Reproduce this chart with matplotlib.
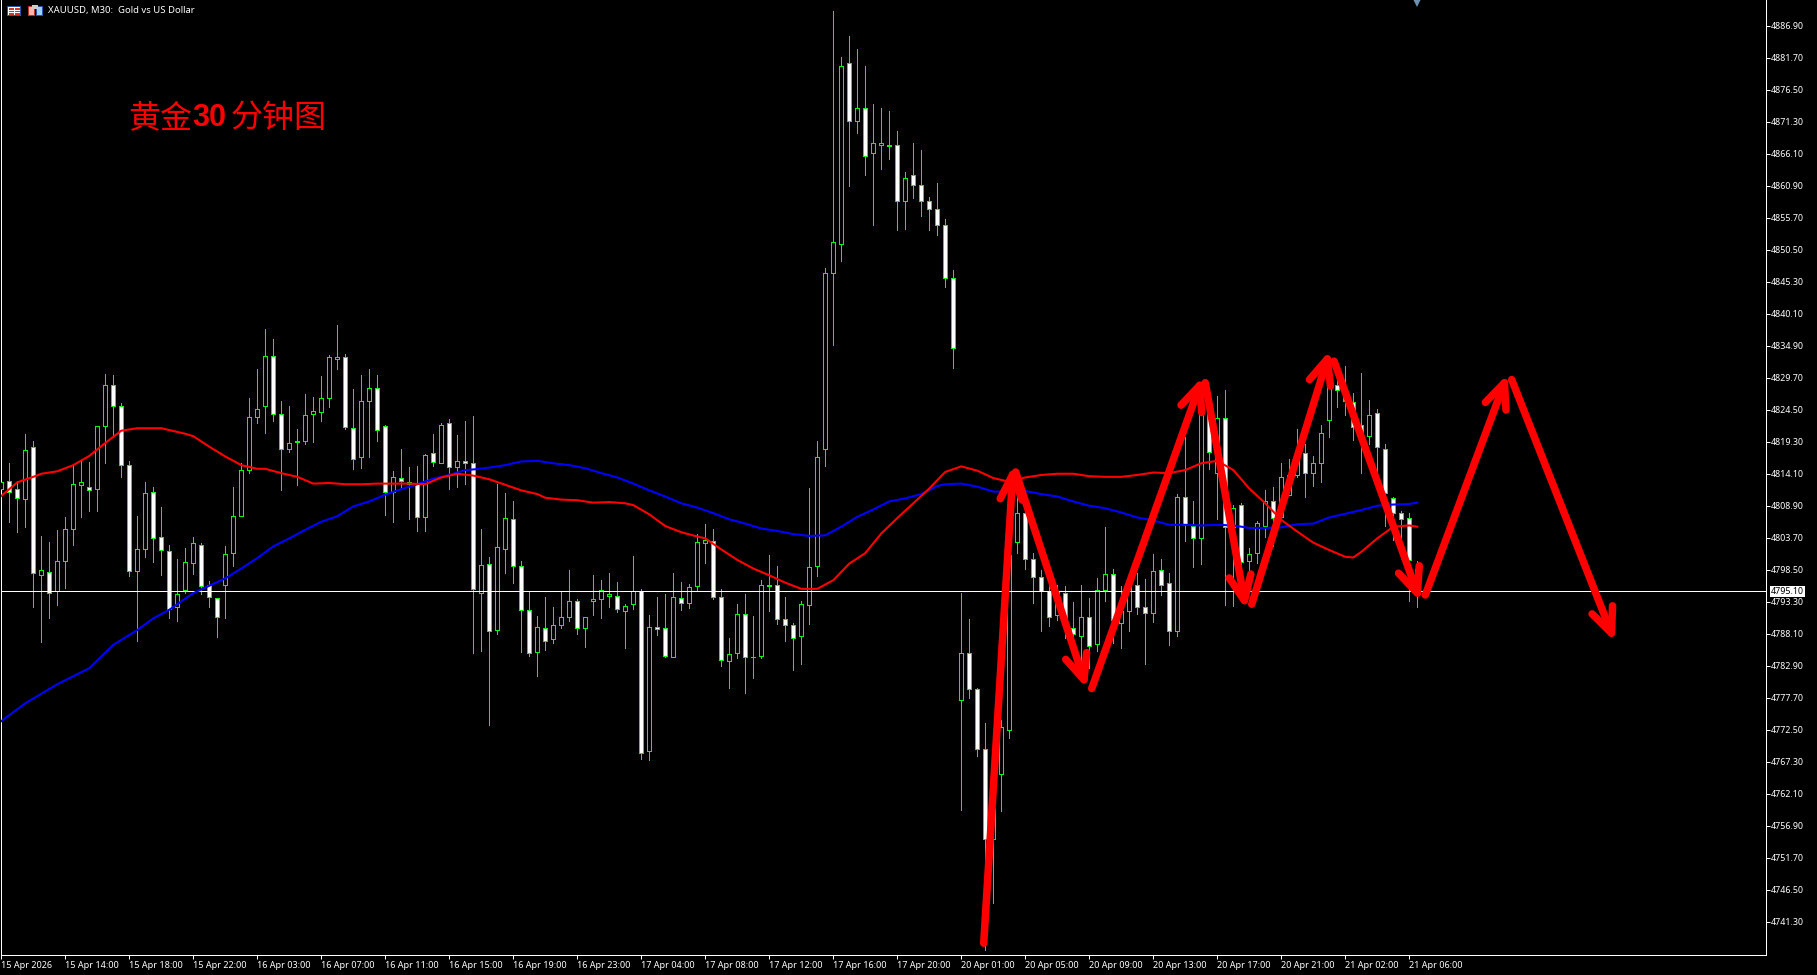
import matplotlib
matplotlib.use("Agg")
import matplotlib.pyplot as plt
from matplotlib.patches import FancyArrowPatch, Rectangle
from matplotlib.transforms import IdentityTransform, ScaledTranslation

plt.rcParams['font.family'] = ['Noto Sans', 'DejaVu Sans']

opens = [4811.7,4813.1,4811.7,4810.1,4818.5,4797.7,4798.3,4795.1,4800.1,4805.3,
         4812.4,4812.1,4811.8,4821.9,4828.6,4825.2,4815.7,4798.4,4801.9,4811.2,
         4804.0,4801.6,4792.5,4795.3,4799.7,4802.7,4796.1,4794.0,4796.2,4801.3,
         4807.4,4814.8,4823.5,4825.2,4833.3,4823.9,4818.2,4819.3,4819.5,4823.9,
         4824.2,4826.5,4832.9,4833.1,4821.6,4817.0,4826.1,4828.1,4821.9,4811.2,
         4813.5,4812.6,4812.6,4807.1,4817.5,4816.0,4822.4,4815.3,4816.2,4815.9,
         4794.8,4799.5,4788.8,4801.9,4806.8,4799.2,4792.0,4785.2,4789.1,4787.3,
         4789.7,4790.9,4793.6,4789.1,4793.5,4793.8,4794.4,4794.3,4791.9,4793.0,
         4795.1,4769.1,4789.3,4789.1,4784.5,4794.0,4793.2,4795.9,4802.9,4803.2,
         4794.1,4783.7,4785.0,4791.4,4784.5,4784.6,4796.0,4796.1,4790.6,4789.6,
         4787.8,4792.8,4799.2,4818.2,4846.8,4851.6,4881.0,4871.6,4873.6,4866.3,
         4867.7,4867.5,4867.6,4858.6,4862.7,4861.1,4858.5,4857.2,4854.7,4846.0,
         4777.4,4785.0,4779.2,4769.4,4754.9,4765.4,4772.6,4803.1,4807.8,4800.4,
         4797.5,4795.1,4791.3,4794.9,4789.2,4787.8,4790.9,4786.5,4795.3,4797.9,
         4789.9,4791.9,4796.2,4792.5,4791.5,4798.5,4796.4,4788.6,4810.4,4805.7,
         4803.7,4824.0,4814.3,4823.2,4805.6,4809.1,4800.1,4801.4,4805.7,4809.7,
         4807.1,4810.8,4814.0,4817.5,4814.3,4815.9,4823.0,4828.7,4827.8,4825.8,
         4822.2,4820.3,4824.0,4818.3,4810.2,4807.9,4807.0,4798.8]
highs = [4813.7,4815.9,4813.1,4820.7,4819.5,4804.1,4803.1,4805.1,4807.2,4815.4,
         4816.2,4816.1,4822.0,4830.4,4830.3,4825.7,4816.3,4807.3,4812.9,4812.0,
         4808.8,4802.6,4800.4,4802.1,4803.9,4802.9,4796.7,4794.0,4802.5,4812.0,
         4815.9,4826.5,4831.2,4837.7,4836.1,4826.0,4825.2,4821.5,4827.2,4826.7,
         4830.1,4833.5,4838.4,4833.7,4827.9,4830.2,4831.2,4830.2,4822.1,4814.7,
         4818.2,4815.3,4815.5,4817.4,4820.7,4822.4,4823.1,4820.5,4822.7,4823.6,
         4805.2,4800.6,4812.6,4811.1,4809.8,4800.0,4795.1,4791.1,4794.2,4792.6,
         4795.1,4798.5,4793.9,4791.0,4797.7,4796.9,4798.1,4796.6,4793.0,4800.9,
         4795.4,4791.3,4794.2,4794.6,4798.1,4796.6,4796.3,4804.4,4806.0,4805.2,
         4795.5,4787.5,4793.0,4794.7,4791.1,4796.9,4801.0,4799.2,4794.2,4790.0,
         4793.5,4811.9,4819.5,4847.6,4889.4,4881.9,4885.3,4883.2,4880.5,4874.3,
         4873.6,4873.1,4869.9,4863.2,4867.9,4866.8,4859.2,4861.4,4855.6,4847.3,
         4794.8,4790.6,4779.4,4773.7,4762.0,4774.2,4805.0,4811.6,4808.3,4801.3,
         4798.6,4796.9,4796.1,4795.9,4793.3,4796.1,4794.0,4797.2,4805.6,4798.8,
         4795.9,4798.0,4798.0,4797.1,4801.1,4800.4,4798.0,4810.9,4820.1,4809.7,
         4826.7,4826.0,4826.8,4827.8,4809.2,4809.4,4802.1,4806.5,4811.5,4812.1,
         4815.9,4816.6,4821.4,4819.1,4817.1,4822.1,4831.0,4830.5,4831.7,4827.3,
         4830.5,4826.2,4824.7,4819.0,4810.4,4808.2,4807.8,4800.0]
lows = [4811.0,4806.3,4804.8,4805.6,4792.6,4786.8,4790.7,4792.9,4795.7,4802.6,
        4807.2,4808.2,4808.2,4816.0,4820.5,4813.6,4797.6,4787.1,4800.6,4799.8,
        4797.8,4790.7,4790.2,4794.8,4797.9,4794.6,4792.6,4787.7,4790.7,4799.2,
        4807.4,4814.4,4822.5,4820.9,4822.8,4811.5,4817.7,4812.4,4819.1,4819.3,
        4822.8,4825.0,4831.2,4821.5,4814.9,4815.1,4817.0,4819.6,4807.5,4806.4,
        4811.7,4806.9,4804.9,4804.9,4815.4,4815.9,4811.8,4812.1,4812.6,4785.0,
        4785.4,4773.3,4788.2,4798.1,4796.5,4785.3,4784.6,4781.4,4785.6,4786.7,
        4789.1,4790.3,4788.2,4786.1,4791.3,4790.8,4792.5,4791.8,4785.9,4792.2,
        4767.9,4767.7,4788.0,4784.4,4784.4,4792.1,4792.4,4795.1,4799.7,4793.9,
        4783.0,4779.4,4784.3,4778.6,4781.0,4784.3,4791.9,4789.8,4787.0,4782.3,
        4783.3,4789.8,4797.6,4815.4,4835.1,4848.8,4860.9,4869.6,4862.7,4854.6,
        4863.7,4865.3,4853.8,4854.0,4859.0,4856.1,4853.8,4853.0,4844.5,4831.4,
        4759.6,4777.8,4768.3,4736.8,4744.5,4759.4,4771.3,4801.4,4798.7,4793.2,
        4788.7,4789.4,4790.4,4787.5,4787.2,4782.6,4782.6,4785.4,4793.5,4786.7,
        4785.9,4788.7,4791.4,4783.3,4790.1,4794.5,4786.4,4787.8,4803.2,4799.1,
        4799.5,4815.0,4806.9,4792.9,4792.7,4795.3,4796.9,4799.7,4804.0,4802.4,
        4806.7,4810.7,4813.7,4810.5,4812.2,4812.9,4820.2,4825.0,4823.8,4819.7,
        4814.3,4819.1,4814.0,4805.7,4803.4,4803.4,4793.6,4792.6]
closes = [4812.9,4811.3,4810.2,4818.0,4798.0,4798.5,4794.9,4800.0,4805.2,4812.6,
          4812.8,4811.5,4821.9,4828.6,4825.2,4815.6,4798.4,4801.9,4811.0,4803.7,
          4801.8,4792.3,4794.6,4799.8,4802.9,4795.9,4794.1,4790.9,4801.1,4807.4,
          4814.8,4823.5,4824.8,4833.3,4823.9,4818.2,4819.2,4819.6,4823.7,4824.4,
          4826.5,4833.1,4833.1,4821.8,4816.6,4826.1,4828.1,4821.3,4811.3,4813.6,
          4813.1,4812.8,4807.1,4817.2,4816.1,4822.2,4815.3,4816.2,4815.9,4795.4,
          4799.3,4788.6,4802.3,4807.0,4799.2,4792.0,4785.0,4789.3,4787.1,4789.6,
          4790.9,4793.5,4789.1,4790.9,4793.8,4795.3,4794.6,4792.3,4792.7,4795.1,
          4768.9,4789.3,4788.9,4784.6,4794.1,4793.2,4795.8,4803.1,4803.4,4794.1,
          4783.9,4784.9,4791.4,4784.5,4784.4,4796.1,4796.1,4790.6,4789.7,4787.5,
          4793.0,4799.0,4817.0,4846.8,4851.8,4880.4,4871.5,4873.6,4865.9,4867.9,
          4867.9,4867.7,4858.5,4862.3,4861.1,4858.5,4857.2,4854.7,4846.0,4834.6,
          4785.0,4779.2,4769.4,4754.8,4759.8,4773.0,4801.0,4807.8,4800.4,4797.5,
          4795.1,4790.9,4795.0,4790.0,4788.1,4790.9,4786.2,4795.3,4797.9,4790.4,
          4791.9,4795.9,4792.5,4791.5,4798.4,4796.1,4788.6,4810.4,4805.9,4803.7,
          4824.0,4817.7,4823.2,4805.6,4808.7,4799.8,4801.1,4806.2,4809.7,4807.0,
          4813.6,4814.0,4817.5,4814.3,4815.9,4820.9,4828.6,4827.8,4826.0,4821.8,
          4820.5,4823.7,4818.5,4811.0,4807.9,4806.8,4800.2,4795.1]

# moving averages, read every couple of bars
red_x = [0,2,4,5,7,9,11,13,15,17,19,20,23,24,26,28,30,32,33,35,37,39,41,43,45,47,49,51,53,55,57,59,
         61,63,65,67,68,70,72,74,76,78,79,81,83,85,87,88,90,92,94,96,98,100,102,104,106,108,110,112,114,116,118,
         120,122,124,126,128,130,132,134,136,138,140,142,144,146,148,150,152,154,156,158,160,162,164,166,168,169,170,172,174,176,177]
red_y = [4810.6,4812.8,4813.7,4814.2,4814.6,4815.6,4817.1,4819.2,4821.2,4821.6,4821.6,4821.6,4820.7,4820.3,4818.6,4817.0,
         4815.6,4815.0,4815.0,4814.3,4813.7,4812.6,4812.7,4812.5,4812.5,4812.6,4812.6,4812.6,4812.5,4813.6,4814.2,4813.9,
         4813.3,4812.4,4811.5,4810.9,4810.3,4810.0,4809.9,4809.5,4809.6,4809.4,4809.1,4807.6,4805.7,4804.7,4804.0,4803.7,
         4801.9,4800.2,4798.8,4797.7,4796.5,4795.5,4795.5,4796.9,4799.6,4801.3,4804.5,4807.0,4809.4,4811.8,4814.5,
         4815.4,4814.7,4813.5,4812.9,4813.6,4814.0,4814.2,4814.2,4813.8,4813.7,4813.7,4814.0,4814.4,4814.3,4814.8,4815.9,
         4816.3,4814.8,4811.8,4809.4,4806.7,4804.8,4803.0,4801.8,4800.7,4800.6,4801.5,4803.7,4805.6,4805.8,4805.6]
blue_x = [0,3,7,11,14,17,19,21,24,26,28,30,32,34,36,38,40,42,44,46,48,50,52,54,56,58,
          59,61,63,65,67,69,71,73,75,77,79,81,83,85,87,89,91,93,95,97,99,101,103,105,107,109,111,113,115,117,118,
          120,122,124,126,128,130,132,134,136,138,140,142,144,146,148,150,152,154,156,158,160,162,164,166,168,170,172,174,176,177]
blue_y = [4774.0,4776.9,4780.0,4782.6,4786.4,4788.8,4790.7,4792.1,4794.8,4796.0,4797.2,4798.8,4800.5,4802.4,4803.7,4805.1,
          4806.4,4807.3,4808.9,4809.7,4810.8,4811.7,4812.5,4813.4,4814.0,4814.8,
          4814.9,4815.2,4815.6,4816.2,4816.3,4815.9,4815.6,4815.1,4814.3,4813.6,4812.6,4811.5,4810.5,4809.4,4808.7,4807.8,
          4806.8,4806.1,4805.3,4804.9,4804.4,4804.1,4804.2,4805.6,4807.2,4808.4,4809.7,4810.2,4810.9,4812.2,4812.5,
          4812.6,4812.1,4811.3,4811.3,4811.4,4810.9,4810.5,4809.7,4809.0,4808.6,4807.9,4807.1,4806.6,4805.9,4805.9,4805.8,
          4805.9,4805.8,4805.4,4805.4,4805.5,4806.0,4806.1,4807.1,4807.7,4808.3,4809.0,4809.2,4809.3,4809.5]

# hand drawn zigzag, (bar, price) of start and tip
arrow_x0 = [122.8,126.8,136.3,150.5,156.3,166.6,178.0,188.8]
arrow_y0 = [4737.9,4814.5,4779.3,4829.0,4793.0,4832.5,4794.5,4829.5]
arrow_x1 = [126.5,135.7,150.2,155.6,166.1,177.4,188.3,201.7]
arrow_y1 = [4815.6,4779.3,4830.0,4792.1,4834.3,4793.4,4830.4,4786.9]

last_price = 4795.10
price_ticks = [4886.90,4881.70,4876.50,4871.30,4866.10,4860.90,4855.70,4850.50,4845.30,4840.10,
               4834.90,4829.70,4824.50,4819.30,4814.10,4808.90,4803.70,4798.50,4793.30,4788.10,
               4782.90,4777.70,4772.50,4767.30,4762.10,4756.90,4751.70,4746.50,4741.30]
time_labels = ["15 Apr 2026","15 Apr 14:00","15 Apr 18:00","15 Apr 22:00","16 Apr 03:00","16 Apr 07:00",
               "16 Apr 11:00","16 Apr 15:00","16 Apr 19:00","16 Apr 23:00","17 Apr 04:00","17 Apr 08:00",
               "17 Apr 12:00","17 Apr 16:00","17 Apr 20:00","20 Apr 01:00","20 Apr 05:00","20 Apr 09:00",
               "20 Apr 13:00","20 Apr 17:00","20 Apr 21:00","21 Apr 02:00","21 Apr 06:00"]

W, H = 1817, 975
L, R, B = 1.3, 1765.7, 955.3
fig = plt.figure(figsize=(W / 100, H / 100), dpi=100, facecolor='black')
ax = fig.add_axes([L / W, (H - B) / H, (R - L) / W, B / H], facecolor='black')

xs = list(range(len(opens)))
green = '#00ff00'
px = 0.72  # one pixel in points

ax.vlines(xs, lows, highs, color=green, lw=px, antialiased=False, zorder=2)
bottoms = [min(o, c) for o, c in zip(opens, closes)]
heights = [abs(o - c) for o, c in zip(opens, closes)]
fills = ['white' if c < o else 'black' for o, c in zip(opens, closes)]
ax.bar(xs, heights, width=0.5, bottom=bottoms, color=fills, edgecolor=green, linewidth=px,
       antialiased=False, zorder=3)

ax.axhline(last_price, color='white', lw=px, antialiased=False, zorder=4)
ax.plot(blue_x, blue_y, color='#0000ff', lw=1.5, zorder=5)
ax.plot(red_x, red_y, color='#ff0000', lw=1.5, zorder=6)

for x0, y0, x1, y1 in zip(arrow_x0, arrow_y0, arrow_x1, arrow_y1):
    ax.add_patch(FancyArrowPatch((x0, y0), (x1, y1), arrowstyle='->,head_length=0.75,head_width=0.33',
                                 mutation_scale=24, color='#ff0000', lw=5.4, shrinkA=0, shrinkB=0,
                                 capstyle='round', joinstyle='round', zorder=7))

ax.set_xlim(0, (R - L) / 8)
top_price = 4795.1 + 591.3 / 6.154
ax.set_ylim(4795.1 + (591.3 - B) / 6.154, top_price)

# little shift marker on the top edge
ax.plot([177], [top_price - 2 / 6.154], marker='v', ms=6.5, color='#7090b0', mew=0, zorder=8)

ax.spines['top'].set_visible(False)
for side in ['left', 'right', 'bottom']:
    ax.spines[side].set_color('white')
    ax.spines[side].set_linewidth(px)

ax.yaxis.tick_right()
ax.set_yticks(price_ticks)
ax.set_yticklabels(['%.2f' % p for p in price_ticks])
ax.set_xticks([8 * i for i in range(len(time_labels))])
ax.set_xticklabels(time_labels, ha='left')
ax.tick_params(axis='y', colors='white', length=3, width=px, pad=0.6, labelsize=6.4)
ax.tick_params(axis='x', colors='white', length=3, width=px, pad=0.8, labelsize=6.5)
nudge = ScaledTranslation(0, 0.8 / 100, fig.dpi_scale_trans)
for tick in ax.yaxis.get_major_ticks():
    tick.label2.set_transform(tick.label2.get_transform() + nudge)

ax.annotate('%.2f' % last_price, xy=(1, last_price), xycoords=('axes fraction', 'data'),
            xytext=(3.6, 0), textcoords='offset points', va='center', ha='left', fontsize=6.4, color='black',
            bbox=dict(boxstyle='square,pad=0.12', fc='white', ec='white', lw=0), annotation_clip=False, zorder=9)

fig.text(47.5 / W, 1 - 11 / H, 'XAUUSD, M30:  Gold vs US Dollar', color='white', fontsize=6.85, va='center', ha='left')

# the title mixes a plain CJK face with a bold latin "30"
cjk = ['Noto Sans CJK SC', 'DejaVu Sans']
fig.text(128 / W, 1 - 118 / H, '黄金', color='#ff0000', fontsize=23, va='center', ha='left', family=cjk)
fig.text(192.5 / W, 1 - 118 / H, '30', color='#ff0000', fontsize=22, fontweight='bold', va='center', ha='left',
         family=['Liberation Sans'])
fig.text(230.5 / W, 1 - 118 / H, '分钟图', color='#ff0000', fontsize=23, va='center', ha='left', family=cjk)


def box(x, y, w, h, face, edge=None):
    fig.add_artist(Rectangle((x, H - y - h), w, h, facecolor=face, edgecolor=edge or face, linewidth=px,
                             transform=IdentityTransform(), antialiased=False))


# the two toolbar glyphs
box(7, 6, 13, 9, 'white', '#2255aa')
for row in (8, 10.7, 13):
    box(8.5, row, 4, 0.6, '#dd3322')
    box(14.5, row, 4, 0.6, '#dd3322')
box(28, 6, 6, 9, '#f5b8a8', '#bb3322')
box(36, 6, 6, 9, '#9fd0f0', '#2255aa')
box(32, 5, 5, 3, '#cccccc')

fig.savefig('out.png', dpi=100, facecolor='black')
